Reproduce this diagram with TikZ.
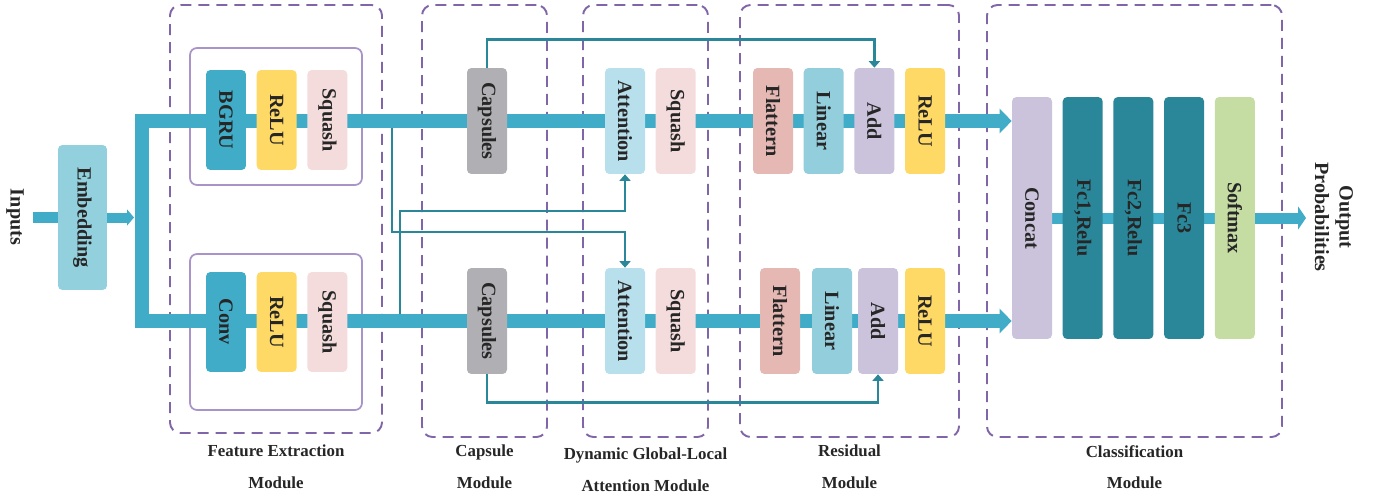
\documentclass[tikz,border=0pt]{standalone}
\usepackage{fontspec}
\setmainfont{Liberation Serif}
\usepackage{graphicx}
\usetikzlibrary{arrows.meta, fit, backgrounds, calc, positioning}
\definecolor{FlowB} {HTML}{41ACC8}
\definecolor{EmbC}  {HTML}{93D0DD}
\definecolor{ReluC} {HTML}{FFD966}
\definecolor{SqC}   {HTML}{F4DCDC}
\definecolor{CapC}  {HTML}{B0B0B4}
\definecolor{AttC}  {HTML}{B8DFEC}
\definecolor{FlatC} {HTML}{E6B8B4}
\definecolor{LinC}  {HTML}{93CEDC}
\definecolor{AddC}  {HTML}{CBC3DB}
\definecolor{FcC}   {HTML}{2A8799}
\definecolor{SoftC} {HTML}{C5DCA3}
\definecolor{LinkC} {HTML}{2A8799}
\definecolor{ModP}  {HTML}{8066A8}
\definecolor{GrpP}  {HTML}{A894C8}
\definecolor{TxtD}  {HTML}{262626}
\newcommand{\vlabel}[1]{\rotatebox{-90}{#1}}
\tikzset{
  blk/.style={
    rectangle, rounded corners=2.5pt,
    draw=none, fill=#1, text=TxtD,
    font=\fontsize{11.5}{13}\selectfont\bfseries,
    inner sep=0pt, minimum width=0.8cm, minimum height=2.12cm,
  },
  fblk/.style={blk=#1, minimum height=2cm},
  cblk/.style={blk=#1, minimum height=4.84cm},
  rgn/.style={
    draw=ModP, rounded corners=6pt, line width=1.1pt,
    dash pattern=on 0.22cm off 0.14cm, inner sep=0pt,
  },
  grp/.style={
    draw=GrpP, rounded corners=4pt, line width=1pt, inner sep=0pt,
  },
  flow/.style={line width=0.28cm, color=FlowB},
  link/.style={
    -{Triangle[length=0.13cm,width=0.22cm]},
    line width=1.5pt, color=LinkC,
  },
  lbl/.style={
    font=\fontsize{9.6}{18}\selectfont\bfseries,
    text=TxtD, align=center,
  },
  side/.style={
    font=\fontsize{11.5}{14}\selectfont\bfseries,
    text=TxtD, align=center, rotate=-90,
  },
}
\begin{document}
\begin{tikzpicture}[x=0.02cm,y=-0.02cm]
  \useasboundingbox (0,0) rectangle (1379,497);

  \node[side] (inp) at (15,217) {Inputs};
  \node[blk=EmbC, minimum width=0.98cm, minimum height=2.9cm]
        (emb) at (82.5,217.5) {\vlabel{Embedding}};

  % feature extraction
  \node[fblk=FlowB] (bgru) at (226,120) {\vlabel{BGRU}};
  \node[fblk=ReluC, right=0.2cm of bgru] (reluA) {\vlabel{ReLU}};
  \node[fblk=SqC, right=0.2cm of reluA] (sqA) {\vlabel{Squash}};
  \node[fblk=FlowB] (conv) at (226,322) {\vlabel{Conv}};
  \node[fblk=ReluC, right=0.2cm of conv] (reluB) {\vlabel{ReLU}};
  \node[fblk=SqC, right=0.2cm of reluB] (sqB) {\vlabel{Squash}};

  % capsules and attention
  \node[blk=CapC] (capT) at (487,121) {\vlabel{Capsules}};
  \node[blk=CapC] (capB) at (487,321) {\vlabel{Capsules}};
  \node[blk=AttC] (attT) at (625,121) {\vlabel{Attention}};
  \node[blk=SqC, right=0.2cm of attT] (sqT) {\vlabel{Squash}};
  \node[blk=AttC] (attB) at (625,321) {\vlabel{Attention}};
  \node[blk=SqC, right=0.2cm of attB] (sqC) {\vlabel{Squash}};

  % residual
  \node[blk=FlatC] (flT) at (773,121) {\vlabel{Flattern}};
  \node[blk=LinC, right=0.2cm of flT] (linT) {\vlabel{Linear}};
  \node[blk=AddC, right=0.2cm of linT] (addT) {\vlabel{Add}};
  \node[blk=ReluC, right=0.2cm of addT] (reluT) {\vlabel{ReLU}};
  \node[blk=FlatC] (flB) at (780,321) {\vlabel{Flattern}};
  \node[blk=LinC] (linB) at (832,321) {\vlabel{Linear}};
  \node[blk=AddC] (addB) at (878,321) {\vlabel{Add}};
  \node[blk=ReluC] (reluR) at (925,321) {\vlabel{ReLU}};

  % classification
  \node[cblk=AddC] (cat) at (1032,218) {\vlabel{Concat}};
  \node[cblk=FcC, right=0.2cm of cat] (fc1) {\vlabel{Fc1,Relu}};
  \node[cblk=FcC, right=0.2cm of fc1] (fc2) {\vlabel{Fc2,Relu}};
  \node[cblk=FcC, right=0.2cm of fc2] (fc3) {\vlabel{Fc3}};
  \node[cblk=SoftC, right=0.2cm of fc3] (soft) {\vlabel{Softmax}};

  \node[side] (outp) at (1334,217) {Output\\Probabilities};

  \begin{scope}[on background layer]
    \node[rgn, fit={(170,5) (382,433)}] (feM) {};
    \node[rgn, fit={(422,5) (547,437)}] (capM) {};
    \node[rgn, fit={(583,5) (708,437)}] (attM) {};
    \node[rgn, fit={(740,5) (959,437)}] (resM) {};
    \node[rgn, fit={(987,5) (1282,437)}] (clsM) {};
    \node[grp, fit={(190,48) (362,185)}] (grpT) {};
    \node[grp, fit={(190,254) (362,410)}] (grpB) {};

    \coordinate (inL) at (33,217.5);
    \coordinate (forkT) at (142,121);
    \coordinate (forkB) at (142,321);
    \coordinate (outR) at (1306,218);
    \draw[flow, line width=0.22cm] (inL) -- (emb.west);
    \draw[flow, line width=0.2cm, -{Triangle[length=0.14cm,width=0.32cm]}]
          (emb.east) -- ($(emb.east -| forkT)+(-8,0)$);
    \draw[flow, line join=miter,
          {Triangle[length=0.24cm,width=0.48cm]}-{Triangle[length=0.24cm,width=0.48cm]}]
          (cat.west |- forkT) -- (forkT) -- (forkB) -- (cat.west |- forkB);
    \draw[flow, line width=0.22cm, -{Triangle[length=0.16cm,width=0.46cm]}]
          (cat.center) -- (outR);
  \end{scope}

  % skip and cross links
  \coordinate (tapT) at (392,128);
  \coordinate (tapB) at (400,314);
  \draw[link] (capT.north) -- ++(0,-28) -| (addT.north);
  \draw[link] (capB.south) -- ++(0,28) -| (addB.south);
  \draw[link] (tapT) -- (tapT |- 0,232) -| (attB.north);
  \draw[link] (tapB) -- (tapB |- 0,211) -| (attT.south);

  \node[lbl] at (feM.south |- 0,467) {Feature Extraction\\Module};
  \node[lbl] at (capM.south |- 0,467) {Capsule\\Module};
  \node[lbl] at (attM.south |- 0,470) {Dynamic Global-Local\\Attention Module};
  \node[lbl] at (resM.south |- 0,467) {Residual\\Module};
  \node[lbl] at (clsM.south |- 0,467) {Classification\\Module};
\end{tikzpicture}
\end{document}
